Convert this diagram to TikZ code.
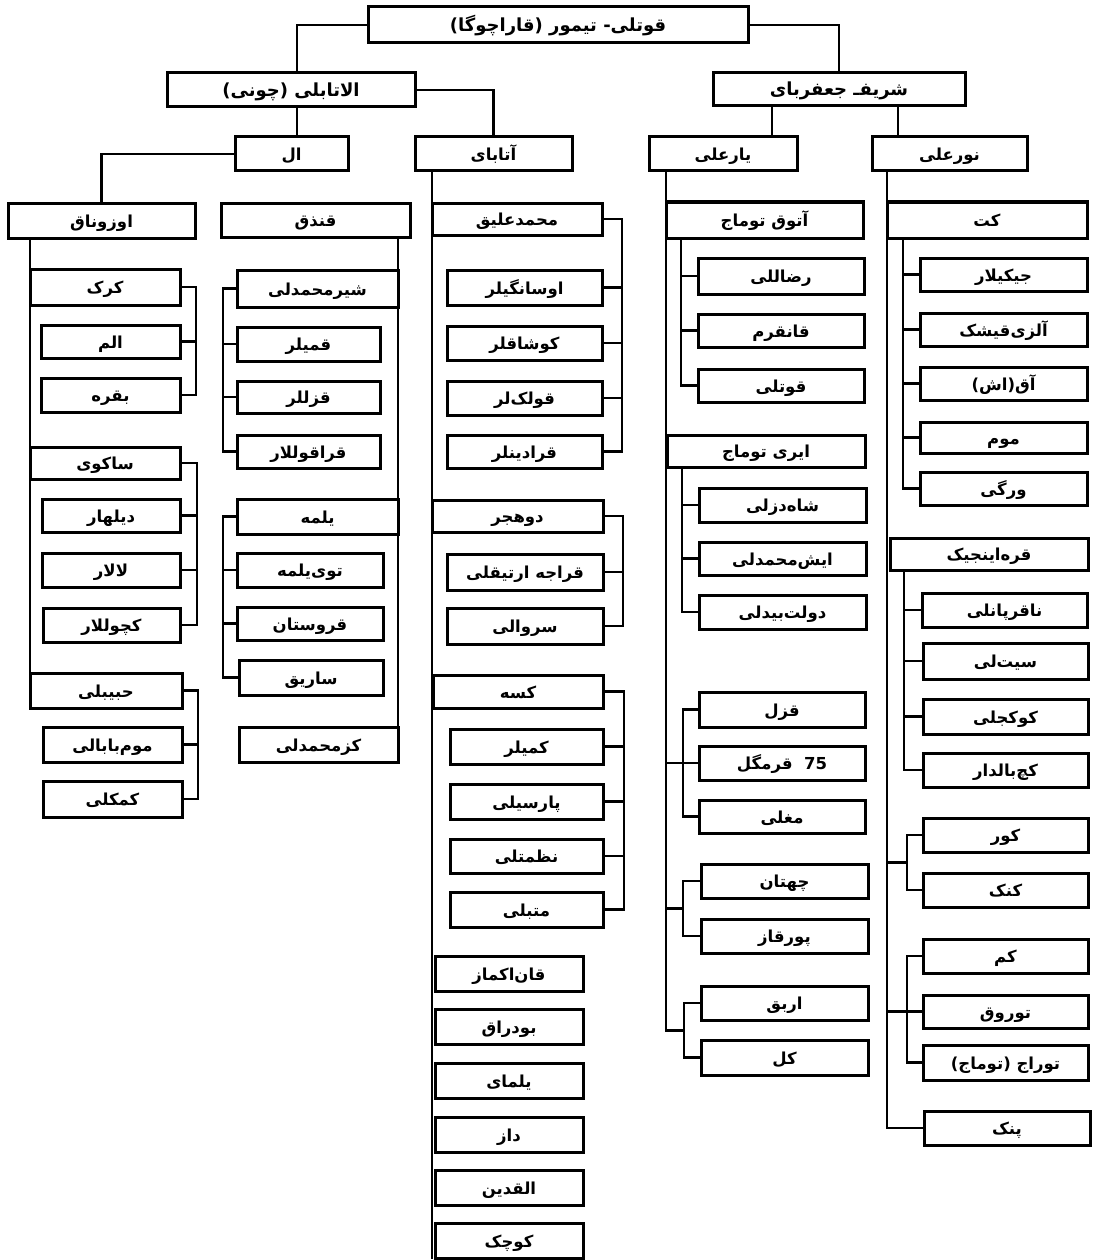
\documentclass[tikz,border=0pt]{standalone}
\usepackage{fontspec}
\usetikzlibrary{calc}
\TeXXeTstate=1
\newfontfamily\arfont[Script=Arabic]{DejaVu Sans}
\tikzset{
  tbox/.style={draw, line width=3pt, inner sep=0pt, outer sep=0pt, fill=white, text height=14pt, text depth=1pt, font=\arfont\bfseries\fontsize{16.5}{18}\selectfont},
  big/.style={font=\arfont\bfseries\fontsize{18}{20}\selectfont},
  ln/.style={line width=2.8pt, line cap=rect}
}
\newcommand\mk[7][]{\node[tbox,#1,minimum width={(#5-#3)*1pt},minimum height={(#6-#4)*1pt}] (#2) at ({(#3+#5)/2},{(#4+#6)/2}) {#7};}
\begin{document}
\begin{tikzpicture}[x=1pt,y=-1pt]
\useasboundingbox[fill=white] (0,0) rectangle (1096,1260);
% ---------- boxes ----------
\mk[big]{top}{368}{7}{748}{43}{\beginR قوتلی- تیمور (قاراچوگا)\endR}
\mk[big]{alat}{167}{73}{415}{107}{\beginR الاتابلی (چونی)\endR}
\mk[big]{sharif}{713}{73}{965}{106}{\beginR شریفـ جعفربای\endR}
\mk{ak}{235}{137}{348}{171}{\beginR ال\endR}
\mk{atabay}{415}{137}{572}{171}{\beginR آتابای\endR}
\mk{yarali}{649}{137}{797}{171}{\beginR یارعلی\endR}
\mk{nurali}{872}{137}{1027}{171}{\beginR نورعلی\endR}
% Ak subtree
\mk{uzunak}{8}{203}{195}{238}{\beginR اوزوناق\endR}
\mk{qnq}{221}{203}{410}{237}{\beginR قنذق\endR}
\mk{kirk}{30}{269}{180}{305}{\beginR کرک\endR}
\mk{alam}{41}{325}{180}{358}{\beginR الم\endR}
\mk{baqra}{41}{378}{180}{412}{\beginR بقره\endR}
\mk{saku}{30}{447}{180}{479}{\beginR ساکوی\endR}
\mk{dilhar}{42}{499}{180}{532}{\beginR دیلهار\endR}
\mk{lalar}{42}{553}{180}{587}{\beginR لالار\endR}
\mk{kochollar}{43}{608}{180}{642}{\beginR کچوللار\endR}
\mk{habib}{30}{673}{182}{708}{\beginR حبیبلی\endR}
\mk{mumbabali}{43}{727}{182}{762}{\beginR موم‌بابالی\endR}
\mk{kamakli}{43}{781}{182}{817}{\beginR کمکلی\endR}
\mk{shirmoh}{237}{270}{398}{307}{\beginR شیرمحمدلی\endR}
\mk{qamilar}{237}{327}{380}{361}{\beginR قمیلر\endR}
\mk{qizillar}{237}{381}{380}{413}{\beginR قزللر\endR}
\mk{qaraqular}{237}{435}{380}{468}{\beginR قراقوللار\endR}
\mk{yalma}{237}{499}{398}{534}{\beginR یلمه\endR}
\mk{toyyalma}{237}{553}{383}{587}{\beginR توی‌یلمه\endR}
\mk{qorustan}{237}{607}{383}{640}{\beginR قروستان\endR}
\mk{sariq}{239}{660}{383}{695}{\beginR ساریق\endR}
\mk{gozmoh}{239}{727}{398}{762}{\beginR کزمحمدلی\endR}
% Atabay subtree
\mk{mohali}{432}{203}{602}{235}{\beginR محمدعلیق\endR}
\mk{osangilar}{447}{270}{602}{305}{\beginR اوسانگیلر\endR}
\mk{kushaqlar}{447}{326}{602}{360}{\beginR کوشاقلر\endR}
\mk{qulaklar}{447}{381}{602}{415}{\beginR قولک‌لر\endR}
\mk{qaradinlar}{447}{435}{602}{468}{\beginR قرادینلر\endR}
\mk{dohjar}{432}{500}{603}{532}{\beginR دوهجر\endR}
\mk{qaraja}{447}{554}{603}{590}{\beginR قراجه ارتیقلی\endR}
\mk{sarvali}{447}{608}{603}{644}{\beginR سروالی\endR}
\mk{kase}{433}{675}{603}{708}{\beginR کسه\endR}
\mk{kamilar}{450}{729}{603}{764}{\beginR کمیلر\endR}
\mk{parsili}{450}{784}{603}{819}{\beginR پارسیلی\endR}
\mk{nazmatli}{450}{839}{603}{873}{\beginR نظمتلی\endR}
\mk{motabli}{450}{892}{603}{927}{\beginR متبلی\endR}
\mk{qanakmaz}{435}{956}{583}{991}{\beginR قان‌اکماز\endR}
\mk{budraq}{435}{1009}{583}{1044}{\beginR بودراق\endR}
\mk{yalmay}{435}{1063}{583}{1098}{\beginR یلمای\endR}
\mk{daz}{435}{1117}{583}{1152}{\beginR داز\endR}
\mk{alqadin}{435}{1170}{583}{1205}{\beginR القدین\endR}
\mk{kuchak}{435}{1223}{583}{1258}{\beginR کوچک\endR}
% Yarali subtree
\mk{atuq}{666}{202}{863}{238}{\beginR آتوق توماج\endR}
\mk{reza}{698}{258}{864}{294}{\beginR رضاللی\endR}
\mk{qanqorm}{698}{314}{864}{347}{\beginR قانقرم\endR}
\mk{qutli}{698}{369}{864}{402}{\beginR قوتلی\endR}
\mk{iri}{667}{435}{865}{467}{\beginR ایری توماج\endR}
\mk{shah}{699}{488}{866}{522}{\beginR شاه‌دزلی\endR}
\mk{ishmoh}{699}{542}{866}{575}{\beginR ایش‌محمدلی\endR}
\mk{dovlat}{699}{595}{866}{629}{\beginR دولت‌بیدلی\endR}
\mk{qizil}{699}{692}{865}{727}{\beginR قزل\endR}
\mk{qormagol}{699}{746}{865}{780}{\beginR 75\ \ قرمگل\endR}
\mk{moghli}{699}{800}{865}{833}{\beginR مغلی\endR}
\mk{chahtan}{701}{864}{868}{898}{\beginR چهتان\endR}
\mk{purqaz}{701}{919}{868}{953}{\beginR پورقاز\endR}
\mk{arbaq}{701}{986}{868}{1020}{\beginR اربق\endR}
\mk{kol}{701}{1040}{868}{1075}{\beginR کل\endR}
% Nurali subtree
\mk{kat}{887}{202}{1087}{238}{\beginR کت\endR}
\mk{jikilar}{920}{258}{1087}{291}{\beginR جیکیلار\endR}
\mk{alzi}{920}{313}{1087}{346}{\beginR آلزی‌قیشک\endR}
\mk{aqash}{920}{367}{1087}{400}{\beginR آق(اش)\endR}
\mk{mum}{920}{422}{1087}{453}{\beginR موم\endR}
\mk{vargi}{920}{472}{1087}{505}{\beginR ورگی\endR}
\mk{qara}{890}{538}{1088}{570}{\beginR قره‌اینجیک\endR}
\mk{naqir}{922}{593}{1087}{627}{\beginR ناقرپانلی\endR}
\mk{sitli}{923}{643}{1088}{679}{\beginR سیت‌لی\endR}
\mk{kokjali}{923}{699}{1088}{734}{\beginR کوکجلی\endR}
\mk{kochbaldar}{923}{753}{1088}{787}{\beginR کچ‌بالدار\endR}
\mk{kur}{923}{818}{1088}{852}{\beginR کور\endR}
\mk{kanak}{923}{873}{1088}{907}{\beginR کنک\endR}
\mk{kam}{923}{939}{1088}{973}{\beginR کم\endR}
\mk{turuq}{923}{995}{1088}{1028}{\beginR توروق\endR}
\mk{turaj}{923}{1045}{1088}{1080}{\beginR توراج (توماج)\endR}
\mk{penk}{924}{1111}{1090}{1145}{\beginR پنک\endR}
% ---------- connectors ----------
\draw[ln] (top.west) -| ([xshift=6pt]alat.north);
\draw[ln] (top.east) -| (sharif.north);
\draw[ln] (alat.east) -| (atabay.north);
\draw[ln] ([xshift=6pt]alat.south) -- ([xshift=6pt]alat.south |- ak.north);
\draw[ln] ([xshift=49pt]yarali.north) -- ([xshift=49pt]yarali.north |- sharif.south);
\draw[ln] ([xshift=-51.5pt]nurali.north) -- ([xshift=-51.5pt]nurali.north |- sharif.south);
\draw[ln] (ak.west) -| (uzunak.north);
% Uzunak
\draw[ln] (uzunak.south -| kirk.west) -- (habib.south west);
\draw[ln] (kirk.east) -- ++(16,0) |- (baqra.east);
\draw[ln] (alam.east) -- ++(16,0);
\draw[ln] (saku.east) -- ++(17,0) |- (kochollar.east);
\draw[ln] (dilhar.east) -- ++(17,0);
\draw[ln] (lalar.east) -- ++(17,0);
\draw[ln] (habib.east) -- ++(16,0) |- (kamakli.east);
\draw[ln] (mumbabali.east) -- ++(16,0);
% Qnq
\draw[ln] (qnq.south -| shirmoh.east) -- (gozmoh.south -| shirmoh.east);
\draw[ln] (shirmoh.west) -- ++(-14,0) |- (qaraqular.west);
\draw[ln] (qamilar.west) -- ++(-14,0);
\draw[ln] (qizillar.west) -- ++(-14,0);
\draw[ln] (yalma.west) -- ++(-14,0) |- (sariq.west);
\draw[ln] (toyyalma.west) -- ++(-14,0);
\draw[ln] (qorustan.west) -- ++(-14,0);
% Atabay
\draw[ln] (atabay.south -| mohali.west) -- (kuchak.south -| mohali.west);
\draw[ln] (mohali.east) -- ++(20,0) |- (qaradinlar.east);
\draw[ln] (osangilar.east) -- ++(20,0);
\draw[ln] (kushaqlar.east) -- ++(20,0);
\draw[ln] (qulaklar.east) -- ++(20,0);
\draw[ln] (dohjar.east) -- ++(20,0) |- (sarvali.east);
\draw[ln] (qaraja.east) -- ++(20,0);
\draw[ln] (kase.east) -- ++(21,0) |- (motabli.east);
\draw[ln] (kamilar.east) -- ++(21,0);
\draw[ln] (parsili.east) -- ++(21,0);
\draw[ln] (nazmatli.east) -- ++(21,0);
% Yarali
\coordinate (g5) at ($(arbaq.west)!.5!(kol.west)+(-17,0)$);
\draw[ln] (yarali.south -| atuq.west) |- (g5);
\draw[ln] (arbaq.west) -- ++(-17,0) |- (kol.west);
\draw[ln] ([xshift=15pt]atuq.south west) |- (qutli.west);
\draw[ln] (reza.west) -- ++(-17,0);
\draw[ln] (qanqorm.west) -- ++(-17,0);
\draw[ln] ([xshift=15pt]iri.south west) |- (dovlat.west);
\draw[ln] (shah.west) -- ++(-17,0);
\draw[ln] (ishmoh.west) -- ++(-17,0);
\draw[ln] (qizil.west) -- ++(-16,0) |- (moghli.west);
\draw[ln] (qormagol.west) -- (qormagol.west -| atuq.west);
\coordinate (g4) at ($(chahtan.west)!.5!(purqaz.west)+(-18,0)$);
\draw[ln] (chahtan.west) -- ++(-18,0) |- (purqaz.west);
\draw[ln] (g4) -- (g4 -| atuq.west);
% Nurali
\draw[ln] (nurali.south -| kat.west) |- (penk.west);
\draw[ln] ([xshift=16pt]kat.south west) |- (vargi.west);
\draw[ln] (jikilar.west) -- ++(-17,0);
\draw[ln] (alzi.west) -- ++(-17,0);
\draw[ln] (aqash.west) -- ++(-17,0);
\draw[ln] (mum.west) -- ++(-17,0);
\draw[ln] ([xshift=14pt]qara.south west) |- (kochbaldar.west);
\draw[ln] (naqir.west) -- ++(-18,0);
\draw[ln] (sitli.west) -- ++(-19,0);
\draw[ln] (kokjali.west) -- ++(-19,0);
\coordinate (g6) at ($(kur.west)!.5!(kanak.west)+(-16,0)$);
\draw[ln] (kur.west) -- ++(-16,0) |- (kanak.west);
\draw[ln] (g6) -- (g6 -| kat.west);
\draw[ln] (kam.west) -- ++(-16,0) |- (turaj.west);
\draw[ln] (turuq.west) -- (turuq.west -| kat.west);
\end{tikzpicture}
\end{document}
